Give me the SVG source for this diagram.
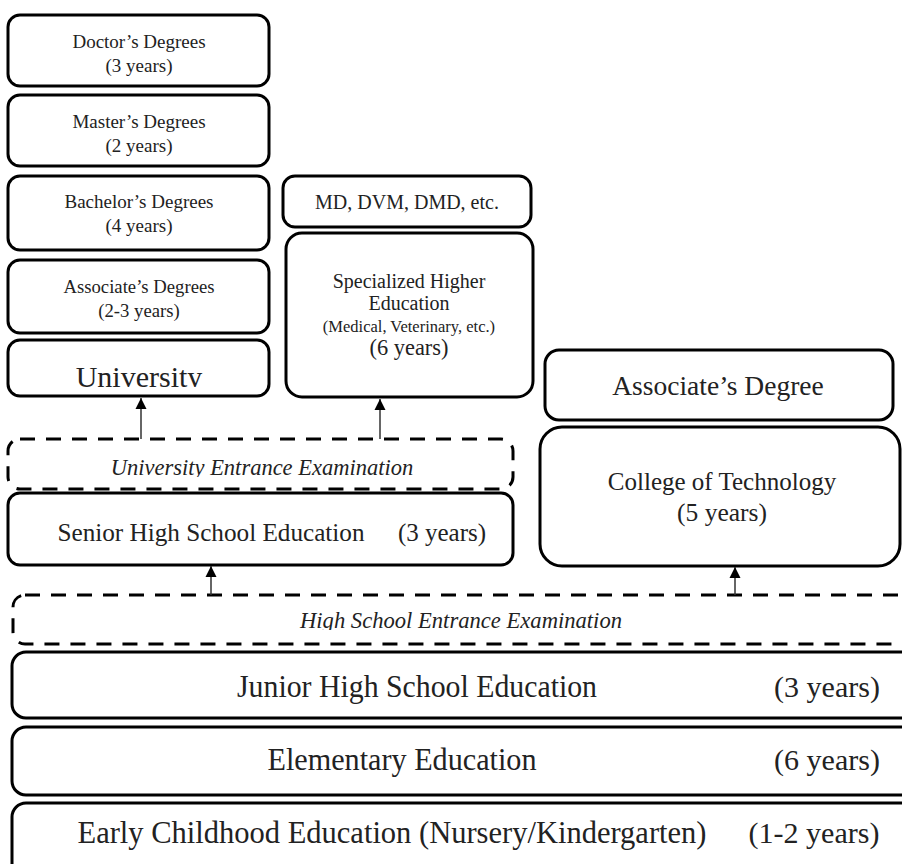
<svg xmlns="http://www.w3.org/2000/svg" width="902" height="864" viewBox="0 0 902 864">
<style>
.box{fill:#fff;stroke:#000;stroke-width:3}
.dash{fill:none;stroke:#000;stroke-width:3;stroke-dasharray:15 11}
text{font-family:"Liberation Serif","Times New Roman",serif;fill:#222;text-anchor:middle}
.it{font-style:italic}
.conn{stroke:#333;stroke-width:1.5}
</style>
<defs>
<marker id="ah" viewBox="0 0 10 10" refX="10" refY="5" markerWidth="7.5" markerHeight="7.5" markerUnits="strokeWidth" orient="auto">
<path d="M0,0 L10,5 L0,10 Z" fill="#000"/>
</marker>
<clipPath id="cu"><rect x="0" y="330" width="300" height="57"/></clipPath>
<clipPath id="cue"><rect x="0" y="440" width="520" height="37"/></clipPath>
<clipPath id="chs"><rect x="0" y="597" width="902" height="33"/></clipPath>
</defs>
<rect width="902" height="864" fill="#fff"/>

<g id="doctor"><rect class="box" x="8" y="15" width="261" height="71" rx="12"/>
<text x="139" y="48" font-size="19">Doctor’s Degrees</text><text x="139" y="72" font-size="19">(3 years)</text></g>
<g id="master"><rect class="box" x="8" y="95" width="261" height="71" rx="12"/>
<text x="139" y="128" font-size="19">Master’s Degrees</text><text x="139" y="152" font-size="19">(2 years)</text></g>
<g id="bachelor"><rect class="box" x="8" y="176" width="261" height="74" rx="12"/>
<text x="139" y="208" font-size="19">Bachelor’s Degrees</text><text x="139" y="232" font-size="19">(4 years)</text></g>
<g id="associates"><rect class="box" x="8" y="260" width="261" height="73" rx="12"/>
<text x="139" y="293" font-size="18.7">Associate’s Degrees</text><text x="139" y="317" font-size="18.7">(2-3 years)</text></g>
<g id="university"><rect class="box" x="8" y="340" width="261" height="56" rx="12"/>
<text x="139" y="387" font-size="30" clip-path="url(#cu)">University</text></g>

<g id="md"><rect class="box" x="283" y="176" width="248" height="51" rx="12"/>
<text x="407" y="209" font-size="20">MD, DVM, DMD, etc.</text></g>
<g id="specialized"><rect class="box" x="286" y="233" width="247" height="164" rx="16"/>
<text x="409" y="288" font-size="20">Specialized Higher</text>
<text x="409" y="310" font-size="20">Education</text>
<text x="409" y="332" font-size="16.5">(Medical, Veterinary, etc.)</text>
<text x="409" y="355" font-size="22.4">(6 years)</text></g>

<g id="assoc-degree"><rect class="box" x="545" y="350" width="348" height="70" rx="14"/>
<text x="718" y="395" font-size="27.5">Associate’s Degree</text></g>
<g id="college"><rect class="box" x="540" y="427" width="360" height="139" rx="22"/>
<text x="722" y="490" font-size="25">College of Technology</text>
<text x="722" y="521" font-size="25.5">(5 years)</text></g>

<g id="uni-exam"><rect class="dash" x="8" y="439" width="505" height="50" rx="12"/>
<text class="it" x="262" y="475" font-size="22.5" clip-path="url(#cue)">University Entrance Examination</text></g>
<g id="senior"><rect class="box" x="8" y="493" width="505" height="72" rx="12"/>
<text x="211" y="541" font-size="25.2">Senior High School Education</text>
<text x="442" y="541" font-size="25">(3 years)</text></g>

<g id="hs-exam"><rect class="dash" x="13" y="595" width="920" height="49" rx="12"/>
<text class="it" x="461" y="628" font-size="24" textLength="322" lengthAdjust="spacingAndGlyphs" clip-path="url(#chs)">High School Entrance Examination</text></g>
<g id="junior"><rect class="box" x="12" y="652" width="920" height="66" rx="14"/>
<text x="417" y="697" font-size="30.5" textLength="360" lengthAdjust="spacingAndGlyphs">Junior High School Education</text>
<text x="827" y="697" font-size="30">(3 years)</text></g>
<g id="elementary"><rect class="box" x="12" y="727" width="920" height="68" rx="14"/>
<text x="402" y="770" font-size="30.5" textLength="269" lengthAdjust="spacingAndGlyphs">Elementary Education</text>
<text x="827" y="770" font-size="30">(6 years)</text></g>
<g id="early"><rect class="box" x="12" y="803" width="920" height="80" rx="14"/>
<text x="392" y="843" font-size="30.5" textLength="629" lengthAdjust="spacingAndGlyphs">Early Childhood Education (Nursery/Kindergarten)</text>
<text x="814" y="843" font-size="30">(1-2 years)</text></g>

<g id="connectors">
<line class="conn" x1="141" y1="439" x2="141" y2="398" marker-end="url(#ah)"/>
<line class="conn" x1="380" y1="439" x2="380" y2="399" marker-end="url(#ah)"/>
<line class="conn" x1="211" y1="595" x2="211" y2="566" marker-end="url(#ah)"/>
<line class="conn" x1="735" y1="595" x2="735" y2="567" marker-end="url(#ah)"/>
</g>
</svg>
